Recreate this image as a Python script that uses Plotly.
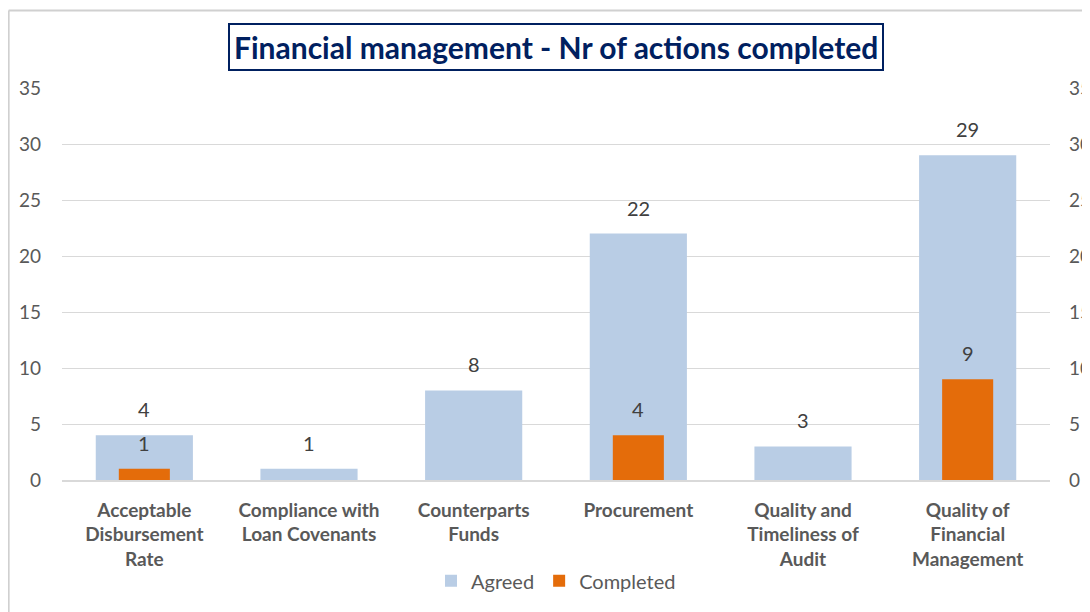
import plotly.graph_objects as go

categories = [
    "Acceptable<br>Disbursement<br>Rate",
    "Compliance with<br>Loan Covenants",
    "Counterparts<br>Funds",
    "Procurement",
    "Quality and<br>Timeliness of<br>Audit",
    "Quality of<br>Financial<br>Management",
]
agreed = [4, 1, 8, 22, 3, 29]
completed = [1, 0, 0, 4, 0, 9]
completed_labels = ["1", "", "", "4", "", "9"]
tick_vals = [0, 5, 10, 15, 20, 25, 30, 35]

FONT = "Lato, 'Open Sans', sans-serif"
BLUE = "#B9CDE5"
ORANGE = "#E46C0A"
NAVY = "#002060"

fig = go.Figure()

fig.add_trace(go.Bar(
    x=categories, y=agreed, name="Agreed",
    marker=dict(color=BLUE, line_width=0),
    width=0.59, yaxis="y",
))
fig.add_trace(go.Bar(
    x=categories, y=completed, name="Completed",
    marker=dict(color=ORANGE, line_width=0),
    width=0.31, yaxis="y2",
))

# data labels above the bars
for cat, v in zip(categories, agreed):
    fig.add_annotation(x=cat, y=v, yref="y", text=str(v), showarrow=False,
                       yanchor="middle", yshift=26,
                       font=dict(family=FONT, size=20, color="#404040"))
for cat, v, t in zip(categories, completed, completed_labels):
    if t:
        fig.add_annotation(x=cat, y=v, yref="y2", text=t, showarrow=False,
                           yanchor="middle", yshift=26,
                           font=dict(family=FONT, size=20, color="#404040"))

# title box
fig.add_annotation(
    x=0.5, y=1.0, xref="paper", yref="paper", yshift=41,
    text="<b>Financial management - Nr of actions completed</b>",
    showarrow=False, yanchor="middle",
    font=dict(family=FONT, size=30, color=NAVY),
    bordercolor=NAVY, borderwidth=2, borderpad=4, bgcolor="white",
)

# chart area border (left and top edges visible)
fig.add_shape(type="line", xref="paper", yref="paper",
              x0=-0.054, x1=-0.054, y0=-0.4, y1=1.198,
              line=dict(color="#D0D0D0", width=2))
fig.add_shape(type="line", xref="paper", yref="paper",
              x0=-0.054, x1=1.1, y0=1.198, y1=1.198,
              line=dict(color="#D0D0D0", width=2))

axis_common = dict(
    range=[0, 35], tickvals=tick_vals, gridcolor="#D9D9D9",
    gridwidth=1, zeroline=False, showline=False, ticks="",
    tickfont=dict(family=FONT, size=19, color="#595959"),
)

fig.update_layout(
    width=1082, height=604,
    margin=dict(l=54, r=40, t=80, b=126),
    paper_bgcolor="white", plot_bgcolor="white",
    barmode="overlay",
    font=dict(family=FONT),
    xaxis=dict(
        showgrid=False, showline=True, linecolor="#D9D9D9", linewidth=1.5,
        ticks="", tickfont=dict(family=FONT, size=19, color="#595959"),
        tickangle=0, ticklabelstandoff=12, automargin=False,
    ),
    yaxis=dict(**axis_common, showgrid=True, ticklabelstandoff=20, automargin=False),
    yaxis2=dict(**axis_common, overlaying="y", side="right",
                ticklabelstandoff=18, automargin=False, showgrid=False),
    legend=dict(
        orientation="h", x=0.5, xanchor="center", y=-0.257, yanchor="middle",
        font=dict(family=FONT, size=20, color="#595959"),
        traceorder="normal",
    ),
    showlegend=True,
)

# bold category labels
fig.update_xaxes(ticktext=[f"<b>{c}</b>" for c in categories], tickvals=categories)

fig.write_html("out.html")
